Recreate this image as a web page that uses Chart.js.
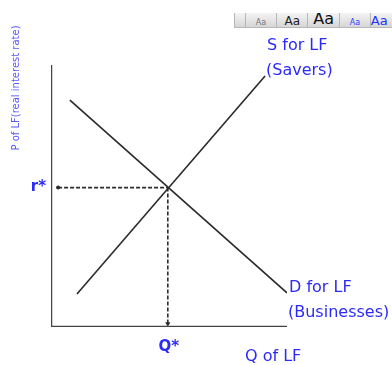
<!DOCTYPE html>
<html lang="en">
<head>
    <meta charset="UTF-8">
    <title>Loanable Funds Market</title>
    <script src="https://cdn.jsdelivr.net/npm/chart.js"></script>
    <style>
        body {
            margin: 0;
            background: #ffffff;
        }

        .wrap {
            position: relative;
            width: 392px;
            height: 365px;
        }

        /* leftover word toolbar strip from the screenshot */
        .toolbar {
            position: absolute;
            left: 234px;
            top: 13px;
            width: 158px;
            height: 14px;
            background: linear-gradient(#f4f4f4, #d6d6d6);
            border-bottom: 1px solid #b8b8b8;
            display: flex;
            overflow: hidden;
            font-family: 'DejaVu Sans', sans-serif;
        }

        .toolbar span {
            border-left: 1px solid #b5b5b5;
            display: flex;
            align-items: flex-end;
            justify-content: center;
            line-height: 1;
            overflow: hidden;
        }
    </style>
</head>
<body>
    <div class="wrap">
        <canvas id="lfChart" width="392" height="365"></canvas>
        <div class="toolbar">
            <span style="width:10px"></span>
            <span style="width:32px;font-size:8px;color:#777">Aa</span>
            <span style="width:31px;font-size:12px;color:#222">Aa</span>
            <span style="width:32px;font-size:16px;color:#111">Aa</span>
            <span style="width:31px;font-size:8px;color:#3344ff">Aa</span>
            <span style="width:22px;font-size:13px;color:#2233ff;justify-content:flex-start">Aa</span>
        </div>
    </div>

    <script>
        // curve end points (Q, r) in chart units
        const demandQ = [0.8, 10];
        const demandR = [8.66, 1.3];
        const supplyQ = [1.1, 9.07];
        const supplyR = [1.26, 9.58];

        // equilibrium
        const eqQ = 4.95;
        const eqR = 5.32;
        const guideStartQ = 0.3;

        // axis ranges
        const qMax = 10;
        const rMax = 10;

        const toPts = (xs, ys) => xs.map((x, i) => ({ x: x, y: ys[i] }));

        const blue = '#2b2bf5';
        const face = "'DejaVu Sans', sans-serif";

        // text labels drawn on top of the plot
        const labelPlugin = {
            id: 'labels',
            afterDraw(chart) {
                const ctx = chart.ctx;
                const xs = chart.scales.x;
                const ys = chart.scales.y;
                ctx.save();
                ctx.fillStyle = blue;
                ctx.textBaseline = 'middle';
                ctx.font = '16px ' + face;
                ctx.textAlign = 'left';
                ctx.fillText('S for LF', 267, 46);
                ctx.fillText('(Savers)', 266, 71);
                ctx.fillText('D for LF', 289, 288);
                ctx.fillText('(Businesses)', 288, 313);
                ctx.fillText('Q of LF', 245, 357);

                ctx.font = 'bold 15px ' + face;
                ctx.textAlign = 'center';
                ctx.fillText('Q*', xs.getPixelForValue(eqQ) + 1, 347);
                ctx.textAlign = 'right';
                ctx.fillText('r*', 46, ys.getPixelForValue(eqR) - 1);

                // rotated y title
                ctx.translate(16, 88);
                ctx.rotate(-Math.PI / 2);
                ctx.textAlign = 'center';
                ctx.font = '10px ' + face;
                ctx.fillStyle = '#5a5aff';
                ctx.fillText('P of LF(real interest rate)', 0, 0);
                ctx.restore();
            }
        };

        const ctxLF = document.getElementById('lfChart').getContext('2d');
        new Chart(ctxLF, {
            type: 'scatter',
            data: {
                datasets: [
                    {
                        // y axis
                        data: [{ x: 0, y: rMax }, { x: 0, y: 0 }],
                        showLine: true,
                        borderColor: '#444',
                        borderWidth: 2.5,
                        pointRadius: 0
                    },
                    {
                        // x axis
                        data: [{ x: 0, y: 0 }, { x: qMax, y: 0 }],
                        showLine: true,
                        borderColor: '#444',
                        borderWidth: 2.5,
                        pointRadius: 0
                    },
                    {
                        data: toPts(demandQ, demandR),
                        showLine: true,
                        borderColor: '#2a2a2a',
                        borderWidth: 1.6,
                        pointRadius: 0
                    },
                    {
                        data: toPts(supplyQ, supplyR),
                        showLine: true,
                        borderColor: '#2a2a2a',
                        borderWidth: 1.6,
                        pointRadius: 0
                    },
                    {
                        // horizontal guide to r*
                        data: [{ x: guideStartQ, y: eqR }, { x: eqQ, y: eqR }],
                        showLine: true,
                        borderColor: '#2a2a2a',
                        borderWidth: 1.6,
                        borderDash: [4, 2],
                        pointRadius: [2, 0],
                        pointBackgroundColor: '#2a2a2a',
                        pointBorderWidth: 0
                    },
                    {
                        // vertical guide down to Q*
                        data: [{ x: eqQ, y: eqR }, { x: eqQ, y: 0.12 }],
                        showLine: true,
                        borderColor: '#2a2a2a',
                        borderWidth: 1.6,
                        borderDash: [4, 2],
                        pointStyle: 'triangle',
                        pointRadius: [0, 3],
                        rotation: 180,
                        pointBackgroundColor: '#2a2a2a',
                        pointBorderWidth: 0
                    }
                ]
            },
            options: {
                responsive: false,
                animation: false,
                layout: {
                    padding: { left: 51, right: 105, top: 65, bottom: 38 }
                },
                scales: {
                    x: { type: 'linear', min: 0, max: qMax, display: false },
                    y: { type: 'linear', min: 0, max: rMax, display: false }
                },
                plugins: {
                    legend: { display: false },
                    tooltip: { enabled: false }
                }
            },
            plugins: [labelPlugin]
        });
    </script>
</body>
</html>
